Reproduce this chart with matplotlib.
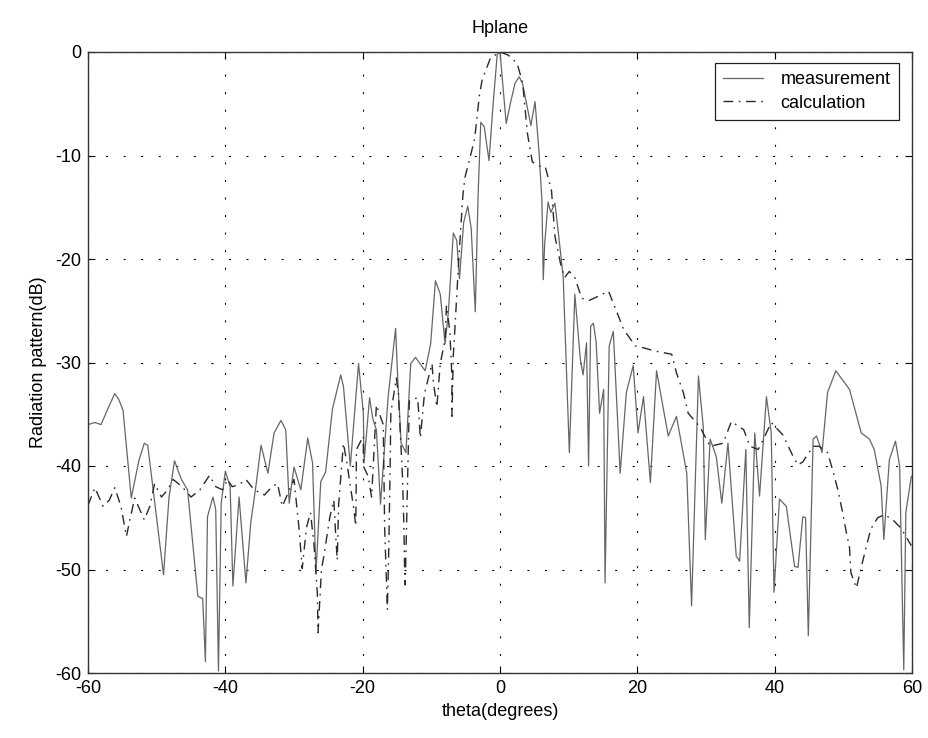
import matplotlib
matplotlib.use("Agg")
import matplotlib.pyplot as plt

plt.rcParams['font.family'] = ['Liberation Sans', 'DejaVu Sans']
plt.rcParams['axes.unicode_minus'] = False

# measurement curve (theta in degrees, pattern in dB)
meas_theta = [-60.0, -59.0, -58.1, -57.0, -56.1, -55.5, -54.9, -53.7, -52.6, -51.8, -51.3, -50.2,
              -49.0, -48.2, -47.4, -46.4, -45.5, -44.0, -43.3, -42.9, -42.6, -41.8, -41.4, -41.0,
              -40.6, -40.0, -39.3, -38.9, -38.0, -37.0, -36.3, -35.5, -34.8, -33.8, -32.9, -31.9,
              -31.2, -30.7, -30.0, -29.0, -28.0, -27.3, -26.8, -26.1, -25.4, -24.4, -23.2, -22.8,
              -21.8, -20.6, -19.9, -19.8, -19.0, -18.5, -18.0, -17.4, -16.3, -15.2, -14.9, -14.4,
              -13.7, -13.0, -12.3, -10.9, -10.1, -9.4, -8.7, -8.0, -7.5, -6.8, -6.3, -5.9,
              -5.3, -4.7, -4.2, -3.6, -3.2, -2.8, -2.3, -1.6, -1.0, -0.4, 0.0, 0.9,
              1.6, 2.2, 2.8, 3.3, 4.5, 5.1, 5.7, 6.1, 6.3, 6.5, 7.0, 7.4,
              8.0, 8.5, 9.2, 10.1, 10.9, 11.7, 12.1, 12.6, 12.9, 13.2, 13.6, 14.0,
              14.5, 15.1, 15.3, 15.9, 16.5, 17.5, 18.4, 19.4, 20.1, 20.9, 21.9, 22.8,
              24.5, 25.7, 27.2, 27.9, 28.9, 29.6, 29.9, 30.6, 31.5, 32.3, 33.2, 34.4,
              34.9, 35.8, 36.3, 37.1, 37.8, 38.8, 39.5, 39.9, 40.7, 41.7, 42.9, 43.4,
              44.1, 44.5, 44.9, 45.6, 46.1, 46.9, 47.7, 48.9, 50.9, 52.6, 53.8, 54.5,
              55.5, 55.9, 56.7, 57.6, 58.2, 58.8, 59.1, 59.9]
meas_db = [-36.0, -35.8, -36.0, -34.3, -33.0, -33.6, -34.6, -43.1, -39.5, -37.8, -38.0, -44.0,
           -50.5, -43.0, -39.5, -41.3, -42.3, -52.6, -52.8, -58.9, -44.9, -43.0, -44.2, -59.8,
           -43.6, -40.5, -42.0, -51.6, -43.0, -51.3, -45.5, -41.7, -38.0, -40.7, -36.8, -35.6,
           -36.5, -43.6, -40.1, -42.3, -37.3, -39.7, -50.3, -41.5, -40.6, -34.5, -31.2, -32.3,
           -40.0, -30.1, -34.9, -39.7, -33.4, -35.5, -36.5, -43.7, -33.4, -26.7, -31.5, -37.8,
           -38.7, -30.1, -29.5, -30.8, -28.2, -22.1, -23.4, -28.2, -25.0, -17.5, -18.2, -21.9,
           -16.5, -14.9, -17.0, -25.1, -14.0, -6.8, -7.2, -10.5, -5.0, -0.2, 0.0, -6.9,
           -4.7, -3.0, -2.4, -3.1, -7.1, -4.8, -9.8, -14.3, -22.0, -18.6, -14.5, -15.5,
           -14.6, -17.5, -21.7, -38.7, -23.4, -29.7, -31.2, -28.1, -40.0, -26.5, -26.2, -28.0,
           -34.9, -32.6, -51.3, -28.4, -27.0, -40.7, -32.9, -30.3, -36.8, -33.3, -41.6, -30.8,
           -37.1, -35.2, -40.7, -53.5, -31.3, -36.2, -47.1, -37.4, -39.1, -43.6, -37.8, -48.7,
           -49.2, -38.4, -55.6, -36.8, -42.9, -33.3, -36.8, -52.2, -43.2, -43.9, -49.7, -49.8,
           -44.9, -45.0, -56.4, -37.4, -37.1, -38.7, -32.9, -30.8, -32.6, -36.8, -37.4, -38.4,
           -41.9, -47.1, -39.4, -37.6, -40.0, -59.7, -44.5, -41.0]

# calculation curve
calc_theta = [-60.0, -59.0, -57.8, -56.9, -56.1, -55.2, -54.4, -54.0, -53.2, -51.8, -51.0, -50.3,
              -49.3, -48.4, -47.6, -46.3, -45.0, -43.7, -42.3, -41.4, -40.4, -39.7, -39.0, -38.0,
              -37.0, -35.8, -34.3, -33.2, -32.4, -31.7, -30.8, -30.0, -29.3, -28.8, -28.2, -27.6,
              -27.1, -26.6, -26.5, -26.0, -25.6, -24.8, -24.2, -23.9, -23.7, -23.5, -22.8, -22.3,
              -21.3, -21.0, -20.9, -19.9, -19.9, -19.2, -18.7, -18.0, -17.0, -16.8, -16.4, -16.2,
              -16.0, -15.9, -15.1, -14.8, -14.2, -14.0, -13.9, -13.8, -13.2, -12.0, -11.8, -11.6,
              -11.0, -9.9, -9.7, -9.2, -8.7, -8.0, -7.8, -7.3, -7.0, -7.0, -6.8, -6.6,
              -6.0, -5.4, -5.1, -4.4, -3.7, -3.0, -2.6, -1.4, 0.0, 1.2, 2.5, 3.3,
              4.0, 4.7, 5.5, 6.6, 7.5, 8.0, 8.8, 9.4, 10.1, 10.9, 11.9, 13.0,
              14.3, 15.8, 17.0, 18.0, 19.7, 21.0, 22.6, 25.0, 25.7, 26.7, 27.4, 29.1,
              30.6, 32.5, 33.7, 35.5, 36.4, 37.6, 38.3, 39.5, 41.2, 42.7, 43.4, 44.1,
              45.6, 46.5, 47.7, 48.5, 49.2, 49.9, 50.4, 50.9, 51.1, 51.9, 52.6, 53.3,
              54.0, 55.0, 56.0, 57.2, 58.4, 59.9]
calc_db = [-43.8, -42.1, -43.9, -43.3, -42.1, -43.9, -46.8, -45.5, -43.1, -45.2, -43.9, -41.7,
           -43.0, -42.3, -41.3, -42.0, -43.0, -42.3, -40.9, -42.0, -42.3, -41.3, -42.0, -41.8,
           -41.3, -42.3, -42.8, -42.0, -41.7, -43.9, -42.5, -41.3, -45.8, -49.9, -46.0, -44.5,
           -47.5, -52.3, -56.1, -50.0, -48.5, -45.0, -43.3, -47.0, -49.1, -43.7, -37.8, -39.7,
           -44.1, -45.8, -38.4, -37.1, -40.0, -41.0, -43.0, -34.1, -36.0, -45.9, -53.9, -48.1,
           -40.0, -34.9, -31.5, -33.0, -41.1, -45.7, -49.8, -51.5, -33.7, -33.4, -35.2, -37.3,
           -33.0, -30.1, -31.9, -34.3, -30.1, -27.8, -24.5, -27.0, -31.5, -35.2, -29.3, -27.1,
           -20.0, -13.8, -12.1, -10.3, -8.4, -4.2, -2.7, -0.6, 0.0, -0.3, -1.1, -3.0,
           -7.9, -10.6, -11.0, -11.1, -13.4, -17.8, -20.4, -21.8, -21.2, -21.8, -23.8, -24.0,
           -23.6, -23.1, -25.1, -26.8, -28.4, -28.6, -28.9, -29.2, -31.0, -32.9, -34.9, -36.2,
           -38.1, -37.8, -35.7, -36.5, -38.1, -38.4, -37.5, -35.8, -37.0, -39.1, -39.9, -39.6,
           -38.1, -38.1, -38.7, -40.5, -42.3, -44.5, -46.3, -47.9, -50.3, -51.8, -49.8, -47.9,
           -46.1, -45.0, -44.7, -45.2, -46.0, -47.7]

x_ticks = [-60, -40, -20, 0, 20, 40, 60]
y_ticks = [0, -10, -20, -30, -40, -50, -60]

fig = plt.figure(figsize=(9.29, 7.38), dpi=100)
ax = fig.add_axes([88/929, 1-673/738, 824/929, 621/738])

ax.plot(meas_theta, meas_db, color='#666666', lw=0.9, label='measurement')
ax.plot(calc_theta, calc_db, color='#2a2a2a', lw=1.0, linestyle=(0, (7, 4, 1.2, 4)),
        label='calculation')

ax.set_xlim(-60, 60)
ax.set_ylim(-60, 0)
ax.set_xticks(x_ticks)
ax.set_yticks(y_ticks)
ax.grid(True, color='black', lw=0.8, linestyle=(0, (1.8, 14)))
ax.tick_params(direction='in', top=True, right=True, length=5, width=0.8,
               labelsize=13, pad=5)
for s in ax.spines.values():
    s.set_linewidth(1.0)
    s.set_color('#333333')

ax.set_title('Hplane', fontsize=13, pad=14)
ax.set_xlabel('theta(degrees)', fontsize=13, labelpad=4)
ax.set_ylabel('Radiation pattern(dB)', fontsize=13, labelpad=6)

leg = ax.legend(loc='upper right', bbox_to_anchor=(0.984, 0.982), borderaxespad=0,
                fancybox=False, edgecolor='#222222', framealpha=1, fontsize=13,
                handlelength=2.2, handletextpad=1.0, labelspacing=0.35,
                borderpad=0.45)
leg.get_frame().set_linewidth(0.9)

fig.savefig('out.png', dpi=100)
